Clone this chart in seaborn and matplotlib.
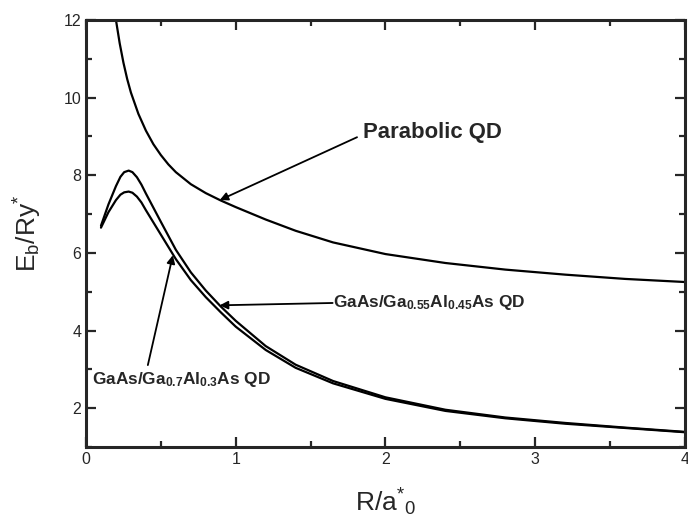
import matplotlib
matplotlib.use("Agg")
import matplotlib.pyplot as plt
import seaborn as sns
import pandas as pd
from matplotlib.ticker import MultipleLocator

# ── data ─────────────────────────────────────────────────────────────────────
x_par = [0.2, 0.225, 0.25, 0.275, 0.3, 0.35, 0.4, 0.45, 0.5, 0.55, 0.6, 0.7,
         0.8, 0.9, 1.0, 1.2, 1.4, 1.65, 2.0, 2.4, 2.8, 3.2, 3.6, 4.0]
y_par = [12.0, 11.4, 10.9, 10.48, 10.13, 9.58, 9.15, 8.8, 8.52, 8.28, 8.08,
         7.77, 7.54, 7.35, 7.18, 6.86, 6.57, 6.27, 5.97, 5.74, 5.57, 5.44,
         5.33, 5.25]

x_qd = [0.1, 0.15, 0.2, 0.23, 0.255, 0.285, 0.31, 0.34, 0.37, 0.4, 0.5, 0.6,
        0.7, 0.8, 0.9, 1.0, 1.2, 1.4, 1.65, 2.0, 2.4, 2.8, 3.2, 3.6, 4.0]
y_al045 = [6.7, 7.25, 7.72, 7.96, 8.08, 8.12, 8.08, 7.95, 7.76, 7.53, 6.8,
           6.08, 5.5, 5.03, 4.62, 4.25, 3.6, 3.12, 2.7, 2.28, 1.96, 1.76,
           1.62, 1.5, 1.39]
y_al03 = [6.65, 7.05, 7.36, 7.5, 7.56, 7.58, 7.55, 7.45, 7.3, 7.1, 6.47,
          5.84, 5.3, 4.86, 4.47, 4.1, 3.5, 3.04, 2.64, 2.24, 1.93, 1.74,
          1.6, 1.49, 1.38]

df_par = pd.DataFrame({"R": x_par, "E": y_par})
df_045 = pd.DataFrame({"R": x_qd, "E": y_al045})
df_03 = pd.DataFrame({"R": x_qd, "E": y_al03})

sns.set_style("ticks")
plt.rcParams["font.family"] = ["Liberation Sans", "DejaVu Sans"]
plt.rcParams["mathtext.fontset"] = "custom"
plt.rcParams["mathtext.rm"] = "Liberation Sans"
plt.rcParams["mathtext.it"] = "Liberation Sans"
plt.rcParams["mathtext.bf"] = "Liberation Sans:bold"

fig = plt.figure(figsize=(6.88, 5.23), dpi=100)
ax = fig.add_axes([0.125, 0.1453, 0.8706, 0.8165])

for d in (df_par, df_045, df_03):
    sns.lineplot(data=d, x="R", y="E", ax=ax, color="black", lw=1.6,
                 sort=False, estimator=None)

ax.set_xlim(0, 4)
ax.set_ylim(1, 12)
ax.xaxis.set_major_locator(MultipleLocator(1))
ax.xaxis.set_minor_locator(MultipleLocator(0.5))
ax.yaxis.set_major_locator(MultipleLocator(2))
ax.yaxis.set_minor_locator(MultipleLocator(1))
ax.tick_params(which="both", direction="in", top=True, right=True,
               width=1.6, labelsize=11.5)
ax.tick_params(which="major", length=7)
ax.tick_params(which="minor", length=4)
for s in ax.spines.values():
    s.set_linewidth(2.2)

ax.set_xlabel(r"R/a$^{*}$$_{0}$", fontsize=19, labelpad=14)
ax.set_ylabel(r"E$_{\mathrm{b}}$/Ry$^{*}$", fontsize=19, labelpad=14)

# ── labels and arrows ────────────────────────────────────────────────────────
arrow = dict(arrowstyle="-|>", lw=1.3, color="black", shrinkA=0, shrinkB=0,
             mutation_scale=12)

ax.text(1.85, 9.09, "Parabolic QD", fontsize=15.9, fontweight="bold",
        ha="left", va="center")
ax.annotate("", xy=(0.893, 7.36), xytext=(1.81, 8.98), arrowprops=arrow)

ax.text(1.65, 4.71, r"$\mathbf{GaAs/Ga_{0.55}Al_{0.45}As\ QD}$", fontsize=12.4,
        ha="left", va="center")
ax.annotate("", xy=(0.893, 4.65), xytext=(1.647, 4.71), arrowprops=arrow)

ax.text(0.04, 2.75, r"$\mathbf{GaAs/Ga_{0.7}Al_{0.3}As\ QD}$", fontsize=12.4,
        ha="left", va="center")
ax.annotate("", xy=(0.58, 5.94), xytext=(0.413, 3.11), arrowprops=arrow)

plt.savefig("out.png", dpi=100)
plt.close()
